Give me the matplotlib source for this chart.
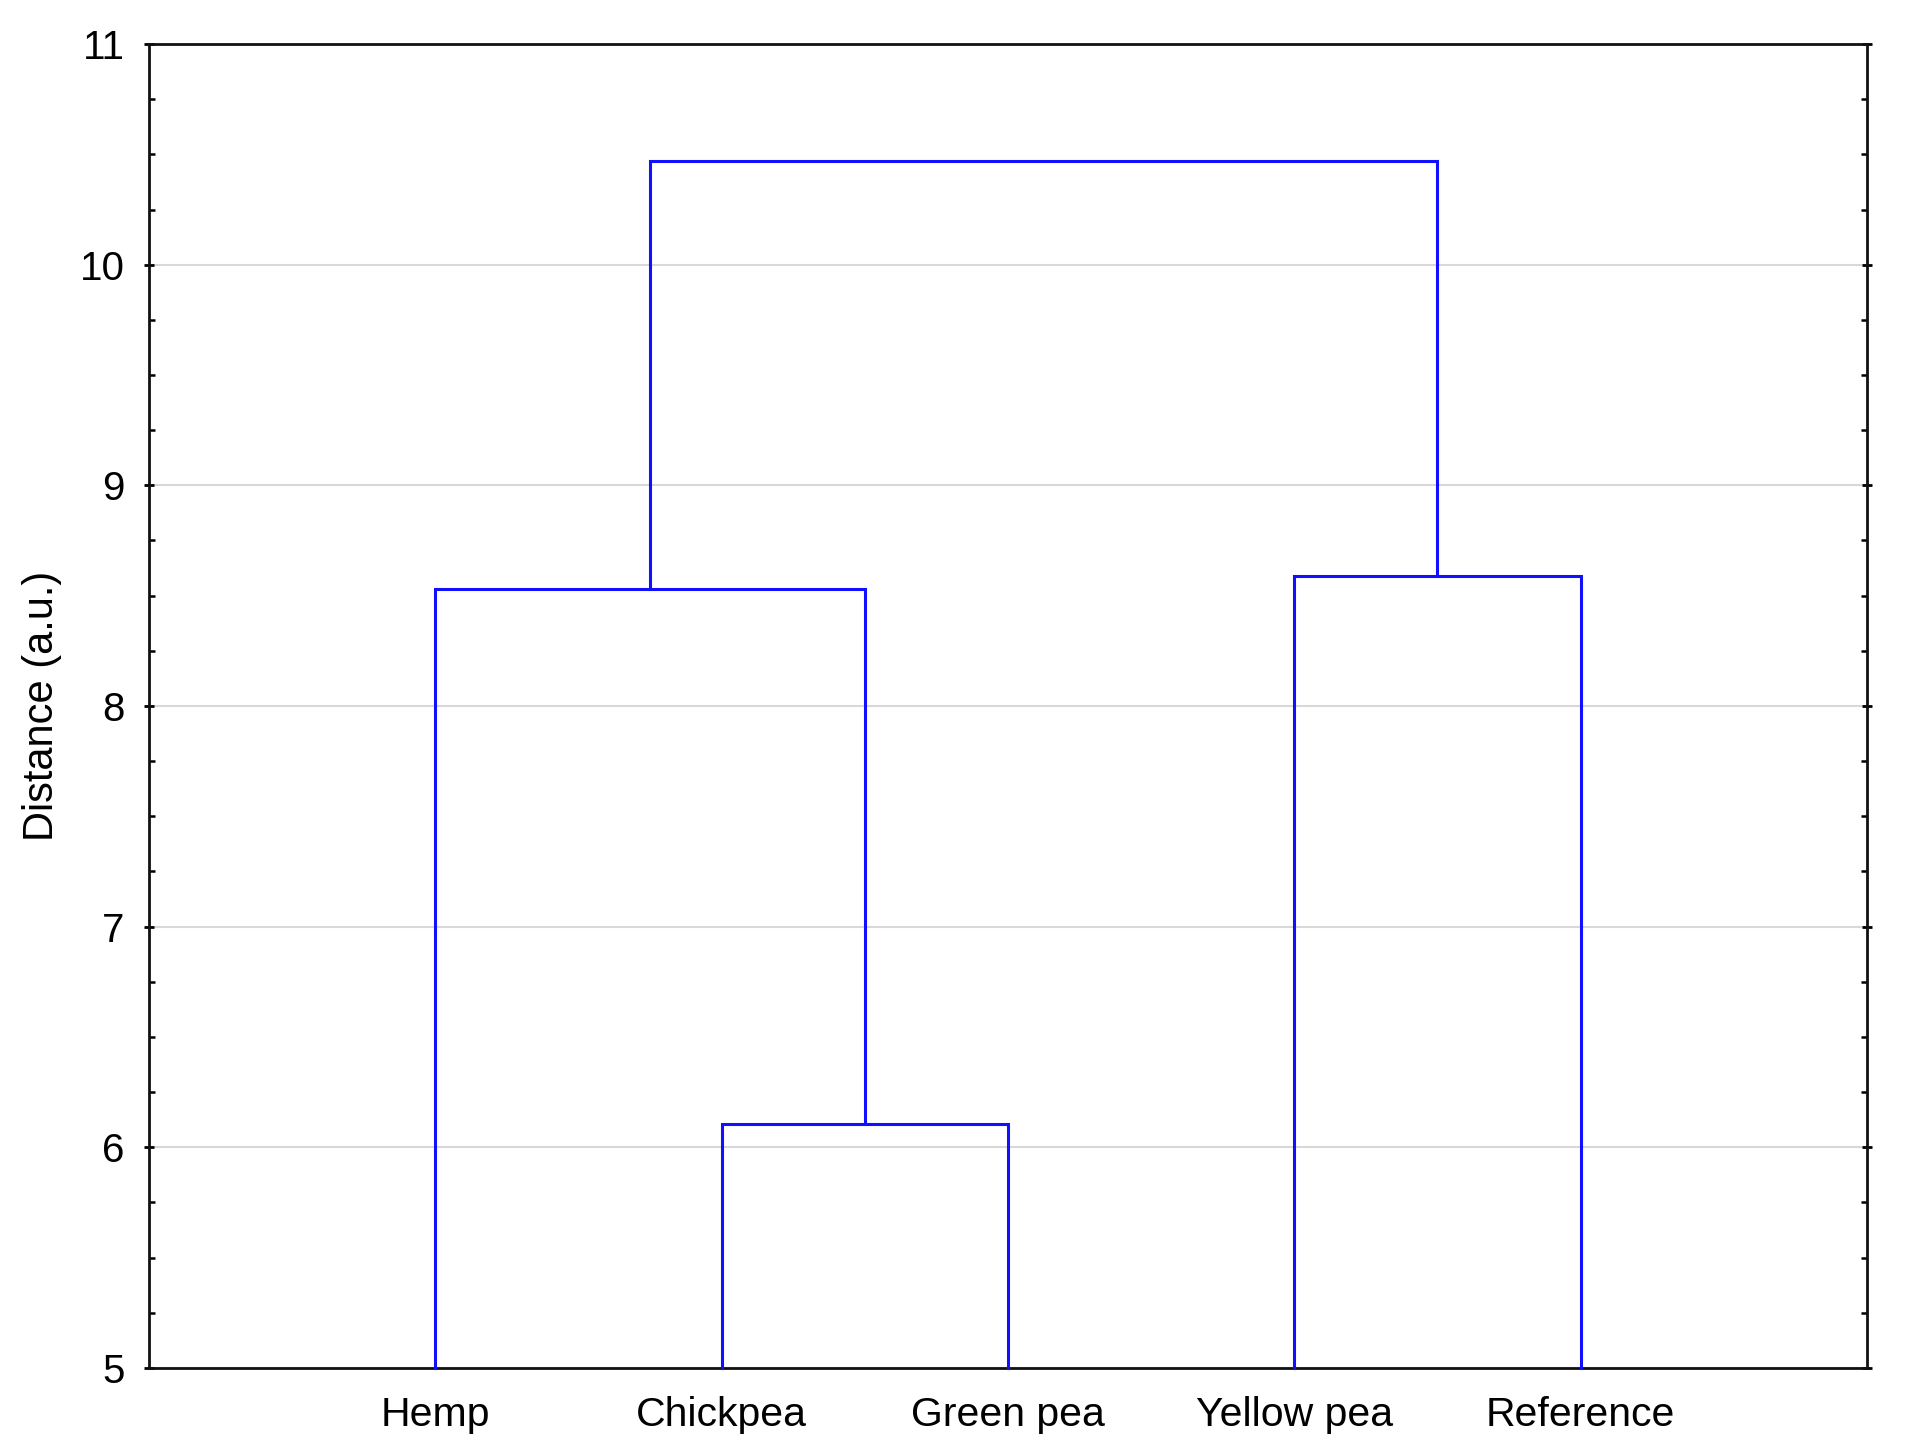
import matplotlib
matplotlib.use("Agg")
import matplotlib.pyplot as plt
from matplotlib.ticker import MultipleLocator

labels = ["Hemp", "Chickpea", "Green pea", "Yellow pea", "Reference"]
# linkage: (left node, right node, height); leaves 0..4, new clusters 5,6,...
merge_left = [1, 0, 3, 6]
merge_right = [2, 5, 4, 7]
merge_height = [6.105, 8.53, 8.59, 10.47]
yticks = [5, 6, 7, 8, 9, 10, 11]

plt.rcParams['font.family'] = ['Liberation Sans', 'DejaVu Sans']
fig = plt.figure(figsize=(19.06, 14.55), dpi=100)
ax = fig.add_axes([149/1906, 1 - 1368/1455, (1867-149)/1906, (1368-44)/1455])

pos = {i: i + 1 for i in range(len(labels))}
hgt = {i: 5.0 for i in range(len(labels))}
blue = "#1010ff"
for k, (a, b, h) in enumerate(zip(merge_left, merge_right, merge_height)):
    xa, xb = pos[a], pos[b]
    ax.plot([xa, xa, xb, xb], [hgt[a], h, h, hgt[b]], color=blue, lw=2.2,
            solid_joinstyle='miter', zorder=3, clip_on=False)
    nid = len(labels) + k
    pos[nid] = (xa + xb) / 2
    hgt[nid] = h

ax.set_xlim(0, 6)
ax.set_ylim(5, 11)
ax.set_xticks(range(1, len(labels) + 1))
ax.set_xticklabels(labels)
ax.set_yticks(yticks)
ax.yaxis.set_minor_locator(MultipleLocator(0.25))
ax.grid(axis='y', which='major', color='#d8d8d8', lw=1.5, zorder=0)
ax.set_axisbelow(True)
for s in ax.spines.values():
    s.set_linewidth(2.0)
    s.set_color('#111111')
ax.tick_params(axis='y', which='major', direction='inout', length=7, width=2,
               left=True, right=True, labelsize=29, pad=14)
ax.tick_params(axis='y', which='minor', direction='in', length=4, width=1.8,
               left=True, right=True)
ax.tick_params(axis='x', which='major', direction='in', length=4, width=2,
               labelsize=29.5, pad=20)
ax.set_ylabel("Distance (a.u.)", fontsize=30, labelpad=13)

fig.savefig("out.png", dpi=100, facecolor='white')
